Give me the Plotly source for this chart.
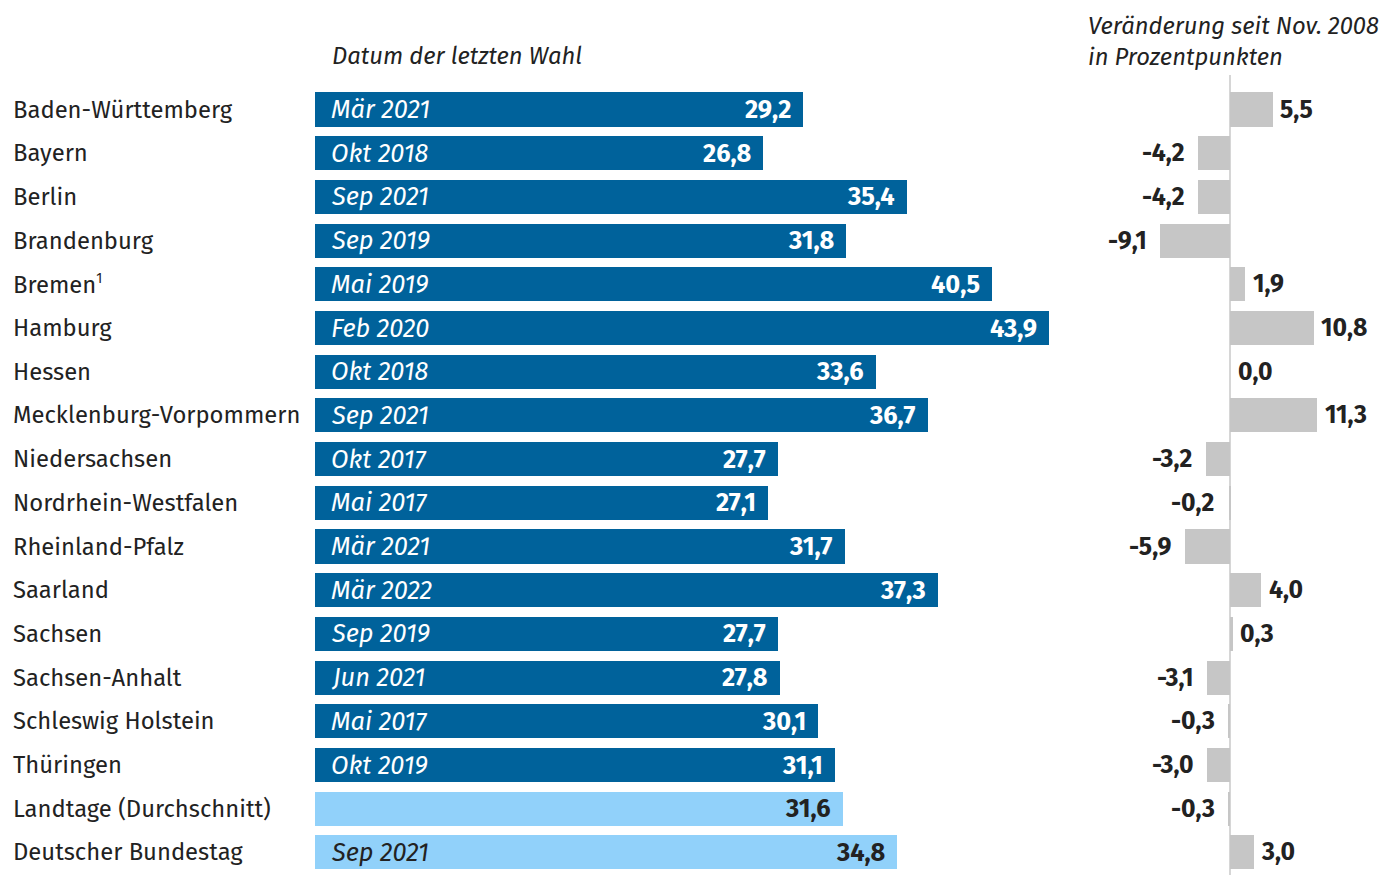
import plotly.graph_objects as go

states = ["Baden-Württemberg", "Bayern", "Berlin", "Brandenburg",
          "Bremen<sup><span style='font-size:14px'>1</span></sup>",
          "Hamburg", "Hessen", "Mecklenburg-Vorpommern", "Niedersachsen",
          "Nordrhein-Westfalen", "Rheinland-Pfalz", "Saarland", "Sachsen",
          "Sachsen-Anhalt", "Schleswig Holstein", "Thüringen",
          "Landtage (Durchschnitt)", "Deutscher Bundestag"]
values = [29.2, 26.8, 35.4, 31.8, 40.5, 43.9, 33.6, 36.7, 27.7, 27.1, 31.7, 37.3,
          27.7, 27.8, 30.1, 31.1, 31.6, 34.8]
dates = ["Mär 2021", "Okt 2018", "Sep 2021", "Sep 2019", "Mai 2019", "Feb 2020",
         "Okt 2018", "Sep 2021", "Okt 2017", "Mai 2017", "Mär 2021", "Mär 2022",
         "Sep 2019", "Jun 2021", "Mai 2017", "Okt 2019", "", "Sep 2021"]
changes = [5.5, -4.2, -4.2, -9.1, 1.9, 10.8, 0.0, 11.3, -3.2, -0.2, -5.9, 4.0,
           0.3, -3.1, -0.3, -3.0, -0.3, 3.0]

DARK = "#00629b"
LIGHT = "#91d1fa"
GRAY = "#c6c6c6"
TXT = "#222222"
FONT = "Fira Sans, Noto Sans, sans-serif"
FS_LAB = 23.8
FS_HEAD = 23.8
FS_BAR = 25.4
FS_CHG = 24.8

W, H = 1386, 875
n = len(states)
ys = list(range(n))
bar_colors = [DARK] * 16 + [LIGHT] * 2

fmt = lambda v: f"{v:.1f}".replace(".", ",")

fig = go.Figure()
fig.add_trace(go.Bar(x=values, y=ys, orientation="h", width=0.78,
                     marker=dict(color=bar_colors, line=dict(width=0)),
                     xaxis="x", yaxis="y", hoverinfo="skip"))
fig.add_trace(go.Bar(x=changes, y=ys, orientation="h", width=0.78,
                     marker=dict(color=GRAY, line=dict(width=0)),
                     xaxis="x2", yaxis="y", hoverinfo="skip"))

ann = []
for i, s in enumerate(states):
    ann.append(dict(x=11 / W, xref="paper", y=i, yref="y", text=s, showarrow=False,
                    xanchor="left", yanchor="middle",
                    font=dict(family=FONT, size=FS_LAB, color=TXT)))
    light = i >= 16
    vcol = TXT if light else "white"
    ann.append(dict(x=values[i], xref="x", y=i, yref="y", text=f"<b>{fmt(values[i])}</b>",
                    showarrow=False, xanchor="right", yanchor="middle", xshift=-10,
                    font=dict(family=FONT, size=FS_BAR, color=vcol)))
    if dates[i]:
        ann.append(dict(x=0, xref="x", y=i, yref="y", text=f"<i>{dates[i]}</i>",
                        showarrow=False, xanchor="left", yanchor="middle", xshift=14,
                        font=dict(family=FONT, size=FS_BAR, color=vcol)))
    c = changes[i]
    if c >= 0:
        ann.append(dict(x=c, xref="x2", y=i, yref="y", text=f"<b>{fmt(c)}</b>",
                        showarrow=False, xanchor="left", yanchor="middle", xshift=6,
                        font=dict(family=FONT, size=FS_CHG, color=TXT)))
    else:
        ann.append(dict(x=c, xref="x2", y=i, yref="y", text=f"<b>{fmt(c)}</b>",
                        showarrow=False, xanchor="right", yanchor="middle", xshift=-11,
                        font=dict(family=FONT, size=FS_CHG, color=TXT)))

ann.append(dict(x=330 / W, xref="paper", y=1 - 56 / H, yref="paper",
                text="<i>Datum der letzten Wahl</i>", showarrow=False,
                xanchor="left", yanchor="middle",
                font=dict(family=FONT, size=FS_HEAD, color=TXT)))
ann.append(dict(x=1086 / W, xref="paper", y=1 - 10 / H, yref="paper",
                text="<i>Veränderung seit Nov. 2008<br>in Prozentpunkten</i>",
                showarrow=False, xanchor="left", yanchor="top", align="left",
                font=dict(family=FONT, size=FS_HEAD, color=TXT)))

px1 = 16.71  # px per unit left
x1_max = 45
px2 = 7.7
x2_min, x2_max = -12, 20
zero2 = 1230

top = -109.5 / 43.7
bottom = top + H / 43.7

left2 = zero2 + px2 * x2_min
right2 = min(W, zero2 + px2 * x2_max)

fig.update_layout(
    width=W, height=H,
    margin=dict(l=0, r=0, t=0, b=0),
    paper_bgcolor="white", plot_bgcolor="white",
    showlegend=False,
    bargap=0,
    xaxis=dict(domain=[315 / W, (315 + px1 * x1_max) / W], range=[0, x1_max],
               visible=False, fixedrange=True),
    xaxis2=dict(domain=[left2 / W, right2 / W],
                range=[x2_min, x2_min + (right2 - left2) / px2],
                visible=False, fixedrange=True),
    yaxis=dict(domain=[0, 1], range=[bottom, top], visible=False, fixedrange=True),
    annotations=ann,
    shapes=[dict(type="line", xref="x2", yref="paper", x0=0, x1=0,
                 y0=0, y1=1 - 75 / H, line=dict(color="#c8c8c8", width=1.5),
                 layer="below")],
)

fig.write_html("out.html", config={"displayModeBar": False})
